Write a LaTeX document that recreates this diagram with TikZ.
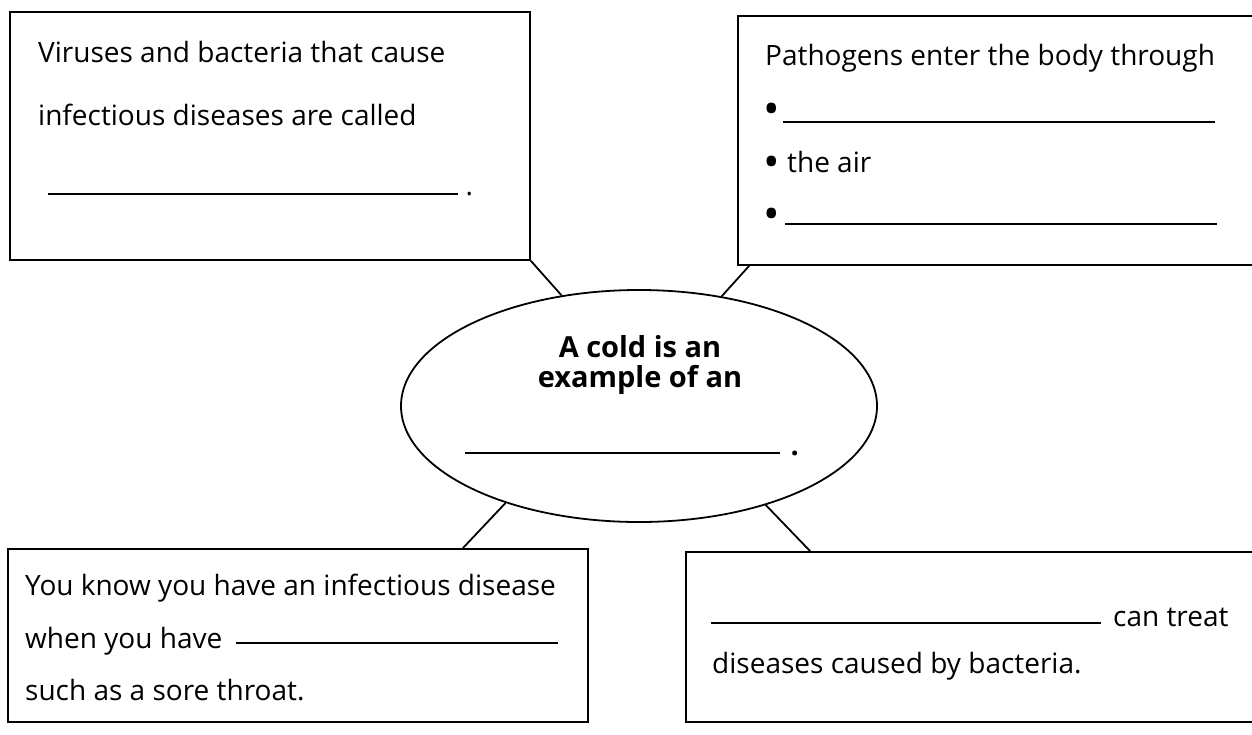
\documentclass[tikz,border=0pt]{standalone}
\usepackage{fontspec}
\setmainfont{Open Sans}
\usetikzlibrary{shapes.geometric,positioning,calc}

\begin{document}
\begin{tikzpicture}[x=1pt,y=-1pt,
  every node/.style={font=\fontsize{28}{34}\selectfont},
  boxnode/.style={rectangle, draw, line width=1.8pt, inner sep=0pt},
  mainnode/.style={ellipse, draw, line width=1.8pt, minimum width=476pt,
    minimum height=232pt, inner sep=0pt},
  txt/.style={anchor=base west, inner sep=0pt},
  dot/.style={anchor=base west, inner sep=0pt, font=\fontsize{44}{44}\selectfont},
  headtxt/.style={anchor=base, inner sep=0pt, font=\fontsize{29}{34}\selectfont\bfseries},
  blank/.style={line width=1.3pt},
  link/.style={line width=1.8pt},
]
  \useasboundingbox (0,0) rectangle (1252,734);
  \clip (0,0) rectangle (1252,734);

  % Nodes
  \node[mainnode] (cold) at (639,406) {};
  \node[boxnode, minimum width=520pt, minimum height=248pt] (virus) at (270,136) {};
  \node[boxnode, minimum width=524pt, minimum height=249pt] (enter) at (1000,140.5) {};
  \node[boxnode, minimum width=580pt, minimum height=173pt] (sign) at (298,635.5) {};
  \node[boxnode, minimum width=576pt, minimum height=170pt] (treat) at (974,637) {};

  % Texts
  \node[headtxt] (h1) at (640,357) {A cold is an};
  \node[headtxt] (h2) at (640,387) {example of an};
  \node[txt] (v1) at (38,62) {Viruses and bacteria that cause};
  \node[txt] (v2) at (38,125) {infectious diseases are called};
  \node[txt] (e1) at (765,65) {Pathogens enter the body through};
  \node[dot] (b1) at (763,124) {\textbullet};
  \node[dot] (b2) at (763,177) {\textbullet};
  \node[txt] (e3) at (787,172) {the air};
  \node[dot] (b3) at (763,229) {\textbullet};
  \node[txt] (s1) at (25,595) {You know you have an infectious disease};
  \node[txt] (s2) at (25,648) {when you have};
  \node[txt] (s3) at (25,700) {such as a sore throat.};
  \node[txt] (t1) at (1113,626) {can treat};
  \node[txt] (t2) at (712,673) {diseases caused by bacteria.};

  % Blanks
  \draw[blank] (48,194) -- (458,194) node[txt, right=7pt] {.};
  \draw[blank] (783,122) -- (1215,122);
  \draw[blank] (785,224) -- (1217,224);
  \draw[blank] (465,453) -- (780,453) node[txt, right=10pt, font=\fontsize{29}{34}\selectfont\bfseries] {.};
  \draw[blank] (236,643) -- (558,643);
  \draw[blank] (711,623) -- (1101,623);

  % Edges
  \draw[link] (virus.south east) -- (cold.125.7);
  \draw[link] ($(enter.south west)+(12,0)$) -- (cold.53.6);
  \draw[link] (cold.216.5) -- ($(sign.north east)+(-126,0)$);
  \draw[link] (cold.322.6) -- ($(treat.north west)+(125,0)$);
\end{tikzpicture}
\end{document}
